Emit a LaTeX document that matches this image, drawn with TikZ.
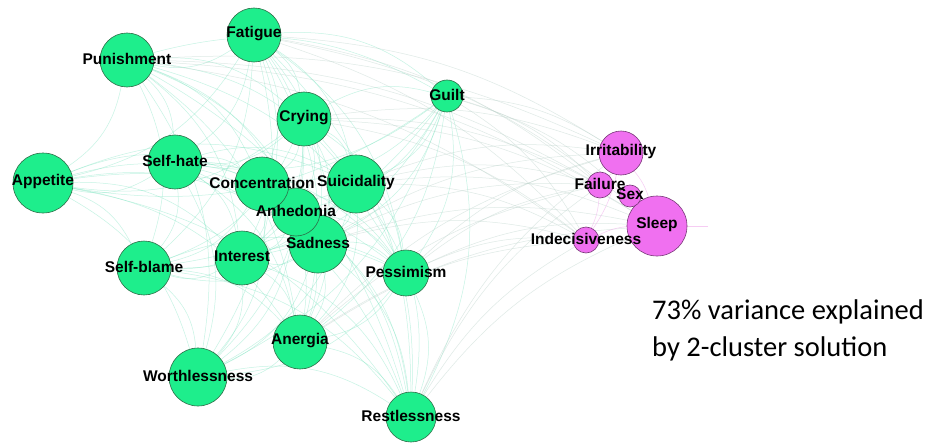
\documentclass[tikz,border=0pt]{standalone}
\usepackage{fontspec}
\setmainfont{Liberation Sans}
\newfontfamily\notefont{Carlito}
\usepackage{xcolor}
\usetikzlibrary{positioning,backgrounds}

\definecolor{symgreen}{RGB}{30,238,140}
\definecolor{symgreenline}{RGB}{45,110,72}
\definecolor{sympink}{RGB}{240,112,240}
\definecolor{sympinkline}{RGB}{120,58,120}
\definecolor{edgegreen}{RGB}{120,228,190}
\definecolor{edgegrey}{RGB}{190,212,204}
\definecolor{edgepink}{RGB}{240,170,235}

\begin{document}
\begin{tikzpicture}[x=1pt,y=-1pt,
  sym/.style={circle,draw=symgreenline,fill=symgreen,line width=0.6pt,inner sep=0pt},
  clus/.style={sym,draw=sympinkline,fill=sympink},
  word/.style={font=\bfseries\fontsize{15.5}{15.5}\selectfont,inner sep=0pt,yshift=1.5pt},
  link/.style={draw=edgegreen,line width=0.5pt,opacity=0.42},
  crosslink/.style={draw=edgegrey,line width=0.5pt,opacity=0.5},
  pinklink/.style={draw=edgepink,line width=0.5pt,opacity=0.6},
  note/.style={font=\notefont\fontsize{28.5}{36}\selectfont,anchor=base west,inner sep=0pt}]
\useasboundingbox (0,0) rectangle (931,444);

% depression symptoms, first cluster
\foreach \n/\x/\y/\r in {fatigue/254/35/27, punish/127/60/27, crying/304/119/27,
  guilt/447/96/16, selfhate/175/162/27, appetite/43/183/30, suicid/356/184/29,
  sadness/318/244/29, anhed/296/212/24, concen/262/184/27, interest/242/258/27,
  selfblame/144/268/27, pessim/406/273/23, anergia/300/342/27,
  worthless/198/377/29, restless/411/417/25}
  \node[sym,minimum size=2*\r] (\n) at (\x,\y) {};

% second cluster
\foreach \n/\x/\y/\r in {irrit/621/153/22, failure/600/185/13, indecis/586/240/13,
  sleep/657/226/30, sex/630/196/11}
  \node[clus,minimum size=2*\r] (\n) at (\x,\y) {};
\coordinate (sleepend) at (708,226);

% edges
\begin{scope}[on background layer]
\fill[white] (0,0) rectangle (931,444);
\foreach \a [count=\i] in {fatigue,punish,crying,guilt,selfhate,appetite,suicid,
  sadness,anhed,concen,interest,selfblame,pessim,anergia,worthless,restless}
  \foreach \b [count=\j] in {fatigue,punish,crying,guilt,selfhate,appetite,suicid,
    sadness,anhed,concen,interest,selfblame,pessim,anergia,worthless,restless}
    {\ifnum\j>\i \draw[link] (\a) to[bend left=22] (\b); \fi}
\foreach \a in {guilt,pessim,restless,suicid,sadness,crying,fatigue,anergia,punish}
  \foreach \b in {irrit,failure,indecis,sleep}
    \draw[crosslink] (\a) to[bend left=14] (\b);
\foreach \a/\b in {irrit/failure,irrit/sleep,failure/sex,failure/indecis,
  sex/sleep,indecis/sleep,irrit/indecis}
  \draw[pinklink] (\a) to[bend left=10] (\b);
\draw[pinklink] (sleep) -- (sleepend);
\end{scope}

% labels on top
\foreach \n/\t in {fatigue/Fatigue, punish/Punishment, crying/Crying, guilt/Guilt,
  selfhate/Self-hate, appetite/Appetite, suicid/Suicidality, sadness/Sadness,
  anhed/Anhedonia, concen/Concentration, interest/Interest, selfblame/Self-blame,
  pessim/Pessimism, anergia/Anergia, worthless/Worthlessness,
  restless/Restlessness, irrit/Irritability, failure/Failure, sex/Sex,
  sleep/Sleep, indecis/Indecisiveness}
  \node[word] (\n-txt) at (\n.center) {\t};

\node[note] (note1) at (652,319) {73\% variance explained};
\node[note] (note2) at (652,356) {by 2-cluster solution};
\end{tikzpicture}
\end{document}
